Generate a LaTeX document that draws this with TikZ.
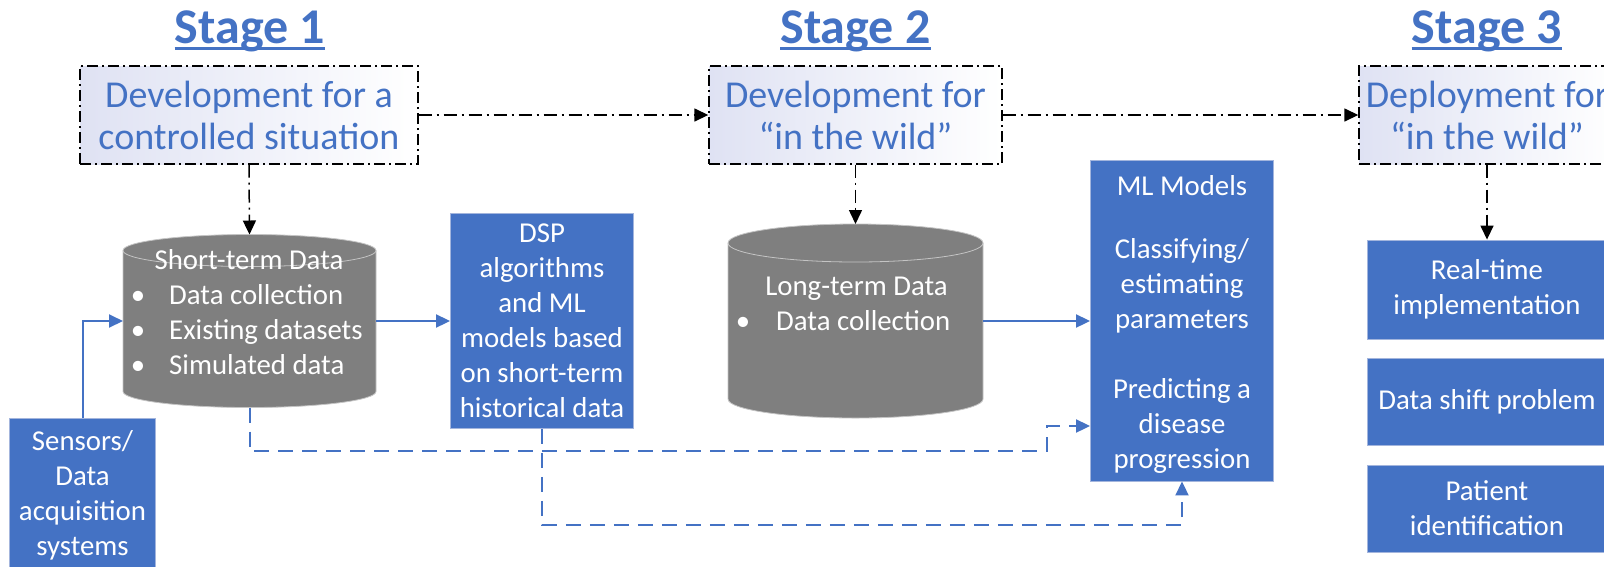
\documentclass[tikz,border=0pt]{standalone}
\usepackage{fontspec}
\setmainfont{Carlito}
\usetikzlibrary{arrows.meta,calc}

\definecolor{offblue}{HTML}{4472C4}
\definecolor{edgeblue}{HTML}{A3B5DD}
\definecolor{lav}{HTML}{DFE2F3}
\definecolor{cylgray}{HTML}{7F7F7F}
\definecolor{cyledge}{HTML}{C4C4C4}

\tikzset{
  stagetitle/.style={font=\fontsize{50}{58}\selectfont\bfseries, text=offblue, inner sep=0, anchor=base},
  phasebox/.style={draw=black, line width=1.4pt, dash pattern=on 11pt off 4pt on 2pt off 4pt,
    left color=lav, right color=white, text=offblue, align=center,
    font=\fontsize{38}{42}\selectfont, inner sep=0},
  bluebox/.style={fill=offblue, draw=edgeblue, line width=0.9pt, text=white, align=center,
    font=\fontsize{28.8}{35}\selectfont, inner sep=0},
  drumtext/.style={text=white, font=\fontsize{28.8}{35}\selectfont, inner sep=0},
  slot/.style={inner sep=0, outer sep=0},
  flowdd/.style={draw=black, line width=1.5pt, dash pattern=on 13pt off 5pt on 2pt off 5pt,
    -{Triangle[length=14pt,width=13pt]}},
  flow/.style={draw=offblue, line width=2pt, -{Triangle[length=14pt,width=13pt]}},
  flowdash/.style={flow, dash pattern=on 15pt off 9pt},
}

% database drum: left x, right x, top y, bottom y, ellipse half-height
\newcommand\drum[5]{%
  \pgfmathsetmacro\drumrx{(#2-#1)/2}%
  \filldraw[fill=cylgray, draw=cyledge, line width=0.8pt]
    (#1,#3+#5) -- (#1,#4-#5)
    arc[start angle=180, end angle=0, x radius=\drumrx, y radius=#5]
    -- (#2,#3+#5)
    arc[start angle=0, end angle=-180, x radius=\drumrx, y radius=#5] -- cycle;
  \draw[cyledge, line width=0.8pt] (#1,#3+#5)
    arc[start angle=180, end angle=0, x radius=\drumrx, y radius=#5];
}

\begin{document}
\begin{tikzpicture}[x=1pt, y=-1pt]
\useasboundingbox (0,0) rectangle (1604,566);
\fill[white] (0,0) rectangle (1604,566);
\clip (0,0) rectangle (1604,566);

% stage headings
\node[stagetitle] (st1) at (250,43) {Stage 1};
\node[stagetitle] (st2) at (855.5,43) {Stage 2};
\node[stagetitle] (st3) at (1487,43) {Stage 3};
\foreach \s in {st1,st2,st3}
  \draw[offblue, line width=2.7pt] ([yshift=-5.5pt]\s.base west) -- ([yshift=-5.5pt]\s.base east);

% phase boxes
\node[phasebox, minimum width=338, minimum height=98] (dev1) at (249,115) {Development for a\\controlled situation};
\node[phasebox, minimum width=293, minimum height=98] (dev2) at (855.5,115) {Development for\\“in the wild”};
\node[phasebox, minimum width=256, minimum height=98] (dep3) at (1487,115) {Deployment for\\“in the wild”};

% databases
\node[slot, minimum width=253, minimum height=173] (cylA) at (249.5,321) {};
\node[slot, minimum width=255, minimum height=194] (cylB) at (855.5,321) {};
\drum{123}{376}{234.5}{407.5}{16}
\drum{728}{983}{224}{418}{19}

\node[drumtext, anchor=base] (cylAhead) at (249,269) {Short-term Data};
\node[drumtext, anchor=base] (bA1) at (138,304) {\textbullet};
\node[drumtext, anchor=base] (bA2) at (138,339) {\textbullet};
\node[drumtext, anchor=base] (bA3) at (138,374) {\textbullet};
\node[drumtext, anchor=base west] (cylAi) at (169,304) {Data collection};
\node[drumtext, anchor=base west] (cylAii) at (169,339) {Existing datasets};
\node[drumtext, anchor=base west] (cylAiii) at (169,374) {Simulated data};

\node[drumtext, anchor=base] (cylBhead) at (856.5,295) {Long-term Data};
\node[drumtext, anchor=base] (bB1) at (743,330) {\textbullet};
\node[drumtext, anchor=base west] (cylBi) at (776,330) {Data collection};

% processing blocks
\node[bluebox, minimum width=183, minimum height=215] (dsp) at (542,321)
  {DSP\\algorithms\\and ML\\models based\\on short-term\\historical data};
\node[bluebox, minimum width=183, minimum height=321] (ml) at (1182,320.5) {};
\node[bluebox, draw=none, fill=none] (mltext) at (1182,324)
  {ML Models\\[28pt]Classifying/\\estimating\\parameters\\[35pt]Predicting a\\disease\\progression};
\node[bluebox, minimum width=146, minimum height=153] (sens) at (82.5,495)
  {Sensors/\\Data\\acquisition\\systems};
\node[bluebox, minimum width=240, minimum height=99] (rt) at (1487,289.5) {Real-time\\implementation};
\node[bluebox, minimum width=240, minimum height=87] (shift) at (1487,401.5) {Data shift problem};
\node[bluebox, minimum width=240, minimum height=87] (pid) at (1487,508.5) {Patient\\identification};

% stage flow
\draw[flowdd] (dev1.east) -- (dev2.west);
\draw[flowdd] (dev2.east) -- (dep3.west);
\draw[flowdd] (dev1.south) -- (cylA.north);
\draw[flowdd] (dev2.south) -- (cylB.north);
\draw[flowdd] (dep3.south) -- (rt.north);

% data flow
\draw[flow] (sens.north) |- (cylA.west);
\draw[flow] (cylA.east) -- (dsp.west);
\draw[flow] (cylB.east) -- (ml.west |- cylB.east);

\coordinate (jogA) at (1047,451);
\coordinate (stepA) at (1047,426);
\coordinate (jogB) at (1182,525);
\draw[flowdash] (cylA.south) |- (jogA) -- (stepA) -- (stepA -| ml.west);
\draw[flowdash] (dsp.south) |- (jogB) -- (ml.south);
\end{tikzpicture}
\end{document}
